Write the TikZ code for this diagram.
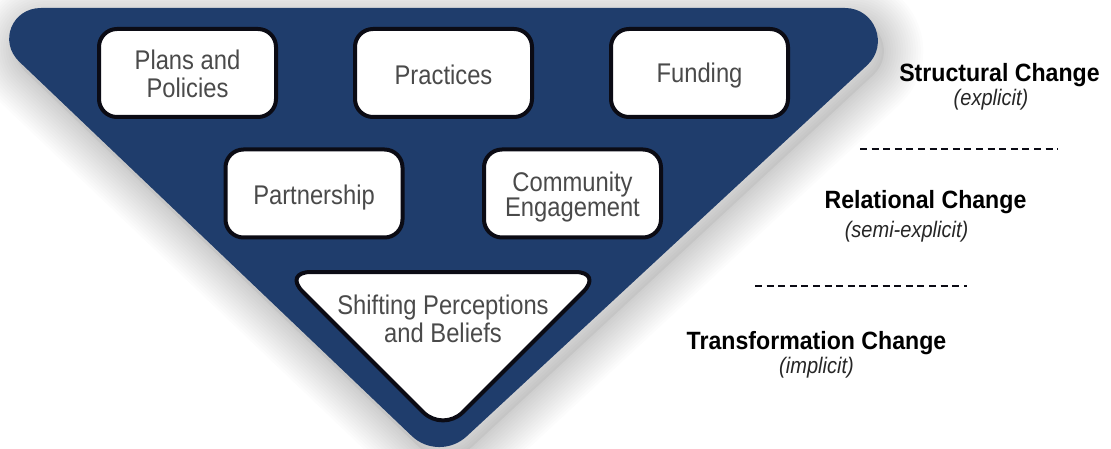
\documentclass[tikz,border=0pt]{standalone}
\usepackage{fontspec}
\setmainfont{Liberation Sans}[FakeStretch=0.88]
\newfontfamily\boldfam{Liberation Sans}[FakeStretch=0.925]
\newfontfamily\italfam{Liberation Sans}[FakeStretch=0.89]
\definecolor{navy}{HTML}{1F3D6C}
\definecolor{txtgrey}{HTML}{4A4A4A}
\definecolor{edge}{HTML}{0B0B14}
\tikzset{
  box/.style={draw=edge, line width=4pt, fill=white, rounded corners=18pt, minimum width=177pt, minimum height=88pt, inner sep=0pt},
  lbl/.style={text=txtgrey, font=\fontsize{27}{28}\selectfont, align=center, inner sep=0pt},
  lbltight/.style={text=txtgrey, font=\fontsize{27}{23.5}\selectfont, align=center, inner sep=0pt},
  head/.style={text=black, font=\boldfam\bfseries\fontsize{25}{28}\selectfont, inner sep=0pt, anchor=base},
  sub/.style={text=black!85, font=\italfam\itshape\fontsize{22.5}{24}\selectfont, inner sep=0pt, anchor=base},
  sep/.style={draw=edge, line width=1.8pt, dash pattern=on 7pt off 4.6pt}
}
\def\bigpath{(41,8) -- (845,8) .. controls (875,8) and (889.2,44.8) .. (867.2,65.2) -- (466.6,436.4) .. controls (451.1,450.7) and (427.1,450.6) .. (411.8,436) -- (19.4,61.8) .. controls (-1.7,41.7) and (11.9,8) .. (41,8) -- cycle}
\begin{document}
\begin{tikzpicture}[x=1pt,y=-1pt]
\useasboundingbox (0,0) rectangle (1111,449);
\fill[white] (0,0) rectangle (1111,449);
% soft shadow
\begin{scope}[shift={(6,10)}]
  \fill[black, opacity=0.04] \bigpath;
  \foreach \w in {4,9,...,80} {
    \draw[black, opacity=0.012, line width=\w pt, line join=round] \bigpath;
  }
\end{scope}
% big inverted triangle
\fill[navy] \bigpath;
% boxes
\node[box] (plans) at (187.5,73) {};
\node[box] (practices) at (443.5,73) {};
\node[box] (funding) at (699.5,73) {};
\node[box] (partnership) at (314,193.5) {};
\node[box] (community) at (572.5,193.5) {};
% inner triangle
\coordinate (tl) at (283,272);
\coordinate (tr) at (603,272);
\coordinate (tb) at (443,432);
\draw[draw=edge, line width=4pt, fill=white, rounded corners=28pt, line join=round] (tl) -- (tr) -- (tb) -- cycle;
% texts
\node[lbl, anchor=base] (plans-t) at (187.5,98) {Plans and\\Policies};
\node[lbl, anchor=base] (practices-t) at (443.5,85) {Practices};
\node[lbl, anchor=base] (funding-t) at (699.5,83) {Funding};
\node[lbl, anchor=base] (partnership-t) at (314,205) {Partnership};
\node[lbltight, anchor=base] (community-t) at (572.5,216.5) {Community\\Engagement};
\node[lbl, anchor=base] (shift-t) at (443,342) {Shifting Perceptions\\and Beliefs};
% right labels
\node[head] (structural) at (999.5,82) {Structural Change};
\node[sub] (explicit) at (991,106) {(explicit)};
\node[head] (relational) at (925.5,209) {Relational Change};
\node[sub] (semiexplicit) at (906.5,237) {(semi-explicit)};
\node[head] (transformation) at (816.5,349) {Transformation Change};
\node[sub] (implicit) at (816.5,373) {(implicit)};
% separators
\coordinate (s1a) at (860,149);
\coordinate (s1b) at (1058,149);
\coordinate (s2a) at (755,286);
\coordinate (s2b) at (967,286);
\draw[sep] (s1a) -- (s1b);
\draw[sep] (s2a) -- (s2b);
\end{tikzpicture}
\end{document}
